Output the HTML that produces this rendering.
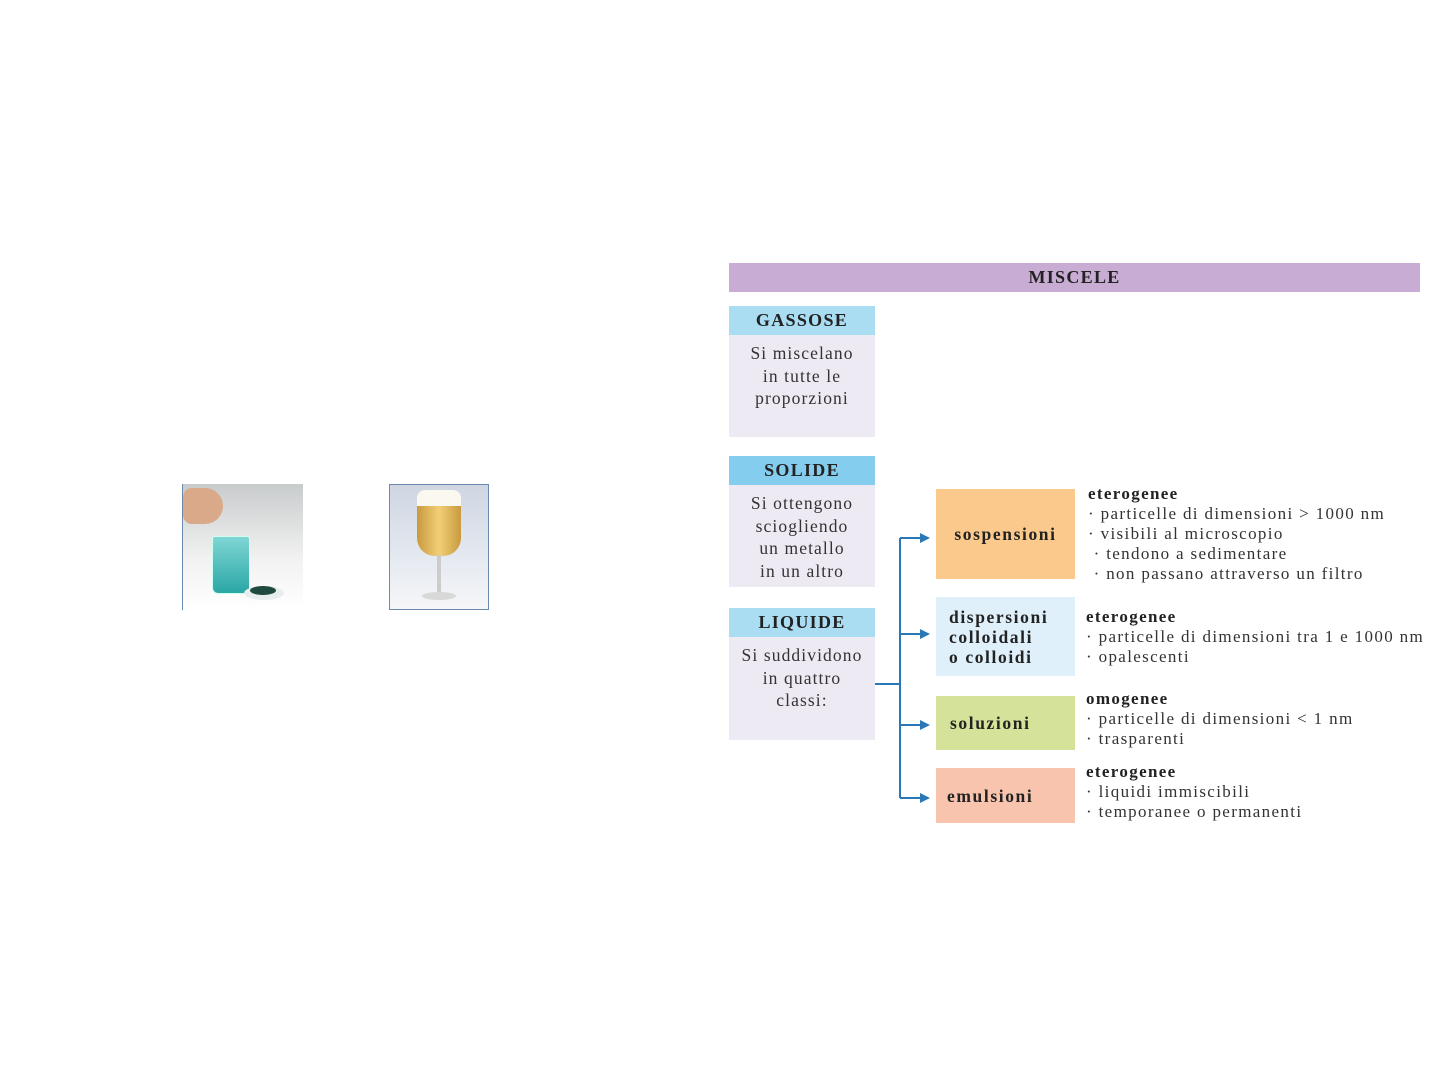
<!DOCTYPE html>
<html><head><meta charset="utf-8"><style>
body{margin:0;width:1440px;height:1080px;background:#fff;position:relative;overflow:hidden;font-family:"Liberation Serif",serif;color:#222}
.a{position:absolute}
.h{font-weight:bold;font-size:18px;text-align:center;line-height:29px;color:#222;letter-spacing:1.3px}
.b{text-align:center;font-size:17.5px;line-height:22.5px;color:#333;letter-spacing:1.1px}
.c{font-weight:bold;font-size:17.5px;line-height:20px;color:#222;display:flex;align-items:center;letter-spacing:1.6px}
.t{font-size:17px;line-height:20px;color:#333;letter-spacing:1.35px;white-space:nowrap}
.t b{color:#222}
</style></head><body>
<!-- images -->
<div class="a" style="left:182px;top:484px;width:120px;height:126px;background:linear-gradient(#c8cbcc,#f2f2f2 60%,#fff);border-left:1px solid #6a8ab0"></div>
<div class="a" style="left:212px;top:536px;width:36px;height:56px;background:linear-gradient(#7fd6d4,#2aa7a6);border-radius:3px 3px 6px 6px;border:1px solid #cfe"></div>
<div class="a" style="left:183px;top:488px;width:40px;height:36px;background:#d9a98a;border-radius:10px 20px 20px 10px"></div>
<div class="a" style="left:244px;top:586px;width:40px;height:14px;background:#e8eeee;border-radius:50%"></div>
<div class="a" style="left:250px;top:586px;width:26px;height:9px;background:#1e4a40;border-radius:50%"></div>
<div class="a" style="left:389px;top:484px;width:100px;height:126px;background:linear-gradient(#cfd6e2,#e9edf3 70%,#f6f6f8);border:1px solid #6a8ab0;box-sizing:border-box"></div>
<div class="a" style="left:417px;top:490px;width:44px;height:18px;background:#fbf8ef;border-radius:8px 8px 0 0"></div>
<div class="a" style="left:417px;top:506px;width:44px;height:50px;background:linear-gradient(90deg,#c89a3e,#f2cf76,#c89a3e);border-radius:0 0 18px 18px"></div>
<div class="a" style="left:437px;top:555px;width:4px;height:40px;background:#ccc"></div>
<div class="a" style="left:422px;top:592px;width:34px;height:8px;background:#d8d8d8;border-radius:50%"></div>

<!-- diagram -->
<div class="a h" style="left:729px;top:263px;width:691px;height:29px;background:#c9acd4">MISCELE</div>

<div class="a h" style="left:729px;top:306px;width:146px;height:29px;background:#aadcf2">GASSOSE</div>
<div class="a b" style="left:729px;top:335px;width:146px;height:102px;background:#eeeaf3;padding-top:7px;box-sizing:border-box">Si miscelano<br>in tutte le<br>proporzioni</div>

<div class="a h" style="left:729px;top:456px;width:146px;height:29px;background:#84cdee">SOLIDE</div>
<div class="a b" style="left:729px;top:485px;width:146px;height:102px;background:#eeeaf3;padding-top:7px;box-sizing:border-box">Si ottengono<br>sciogliendo<br>un metallo<br>in un altro</div>

<div class="a h" style="left:729px;top:608px;width:146px;height:29px;background:#aadcf2">LIQUIDE</div>
<div class="a b" style="left:729px;top:637px;width:146px;height:103px;background:#eeeaf3;padding-top:7px;box-sizing:border-box">Si suddividono<br>in quattro<br>classi:</div>

<svg class="a" style="left:0;top:0" width="1440" height="1080">
<g stroke="#2a78b8" stroke-width="2" fill="none">
<path d="M875 684H900M900 538V798M900 538H922M900 634H922M900 725H922M900 798H922"/>
</g>
<g fill="#2a78b8">
<path d="M930 538l-10-5v10z"/><path d="M930 634l-10-5v10z"/><path d="M930 725l-10-5v10z"/><path d="M930 798l-10-5v10z"/>
</g>
</svg>

<div class="a c" style="left:936px;top:489px;width:139px;height:90px;background:#fbc98b;justify-content:center">sospensioni</div>
<div class="a c" style="left:936px;top:597px;width:139px;height:79px;background:#dff0fb;padding-left:13px;box-sizing:border-box">dispersioni<br>colloidali<br>o colloidi</div>
<div class="a c" style="left:936px;top:696px;width:139px;height:54px;background:#d5e29a;padding-left:14px;box-sizing:border-box">soluzioni</div>
<div class="a c" style="left:936px;top:768px;width:139px;height:55px;background:#f8c4ae;padding-left:11px;box-sizing:border-box">emulsioni</div>

<div class="a t" style="left:1088px;top:484px"><b>eterogenee</b><br>· particelle di dimensioni &gt; 1000 nm<br>· visibili al microscopio<br>&nbsp;· tendono a sedimentare<br>&nbsp;· non passano attraverso un filtro</div>
<div class="a t" style="left:1086px;top:607px"><b>eterogenee</b><br>· particelle di dimensioni tra 1 e 1000 nm<br>· opalescenti</div>
<div class="a t" style="left:1086px;top:689px"><b>omogenee</b><br>· particelle di dimensioni &lt; 1 nm<br>· trasparenti</div>
<div class="a t" style="left:1086px;top:762px"><b>eterogenee</b><br>· liquidi immiscibili<br>· temporanee o permanenti</div>
</body></html>
